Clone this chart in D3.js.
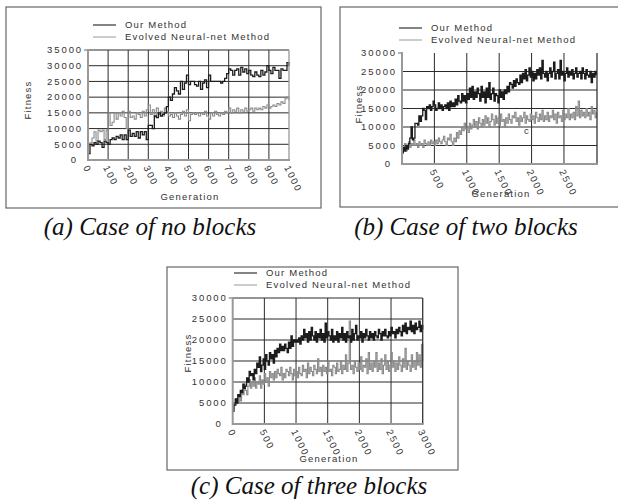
<!DOCTYPE html>
<html>
<head>
<meta charset="utf-8">
<script src="https://cdn.jsdelivr.net/npm/d3@7"></script>
<style>
  body { margin: 0; background: #fff; }
  svg { display: block; }
  .tick-label, .legend-label, .axis-title { font-family: "Liberation Sans", Arial, sans-serif; font-size: 9.5px; letter-spacing: 1.2px; fill: #333; }
  .tick-label { letter-spacing: 1.9px; }
  .caption { font-family: "Liberation Serif", "Times New Roman", serif; font-style: italic; font-size: 25px; fill: #111; }
</style>
</head>
<body>
<svg id="chart" width="618" height="500"></svg>
<script>
// series names
const seriesNames = ["Our Method", "Evolved Neural-net Method"];

// (a) no blocks, one value every 10 generations
const stepA = 10;
const ourA = [2000, 5000, 4500, 5500, 5000, 6000, 5500, 4000, 6000, 5500,
  5000, 6500, 7000, 6500, 7500, 7000, 8000, 6500, 8000, 6500,
  9500, 7500, 8500, 7500, 9000, 7000, 9000, 8000, 9000, 6500,
  11000, 11000, 10000, 14000, 13500, 15000, 14000, 14500, 15000, 17000,
  20000, 19000, 21000, 23000, 22000, 21000, 25000, 22500, 24500, 27000,
  24000, 25000, 25000, 24000, 23500, 25000, 22500, 24500, 25500, 23000,
  27000, 25000, 25000, 25000, 25000, 25000, 24500, 25000, 26000, 27500,
  29000, 28500, 27000, 28500, 29000, 27000, 29500, 28000, 29000, 27500,
  28500, 27000, 26500, 28000, 27000, 26500, 28500, 27000, 28000, 30000,
  28500, 27500, 29500, 28500, 28500, 26000, 29000, 28500, 28500, 31000,
  30000];
const nnA = [5000, 5500, 7000, 9000, 6000, 9500, 9000, 9500, 6500, 9500,
  15000, 11000, 12000, 15000, 13000, 15000, 14000, 15500, 13500, 10000,
  15500, 13500, 14000, 13000, 15000, 14500, 13500, 15500, 14000, 16000,
  17500, 14500, 16000, 14000, 16500, 14500, 15500, 14000, 16500, 15500,
  14000, 14500, 13500, 15000, 14000, 13000, 14500, 15500, 14000, 16000,
  12500, 14500, 15000, 14500, 15000, 14000, 15000, 14500, 15500, 14000,
  13000, 15000, 14000, 15500, 14500, 14000, 15000, 14500, 15500, 15000,
  16500, 15000, 16000, 15500, 16500, 15000, 16000, 15500, 16500, 15500,
  16000, 16500, 15500, 16500, 16000, 16500, 16000, 17000, 16500, 17500,
  16500, 17000, 17500, 17000, 18000, 17500, 18500, 18000, 19500, 20000,
  19000];
const xTicksA = [0, 100, 200, 300, 400, 500, 600, 700, 800, 900, 1000];
const yTicksA = [0, 5000, 10000, 15000, 20000, 25000, 30000, 35000];

// (b) two blocks, one value every 20 generations
const stepB = 20;
const ourB = [3000, 4500, 3500, 5000, 4000, 5500, 7000, 10000, 6500, 7000,
  11000, 11000, 10500, 13000, 11500, 13000, 15000, 14500, 12000, 15500,
  15000, 16000, 14500, 15500, 17000, 16000, 14500, 15000, 16500, 15000,
  16000, 14500, 15500, 16000, 15000, 16500, 14500, 17000, 15500, 16500,
  15500, 17500, 16000, 18500, 17000, 16500, 19000, 17000, 18500, 16500,
  19000, 17500, 20500, 18000, 21000, 17500, 19500, 18000, 20500, 19000,
  17000, 21000, 18000, 19500, 16500, 20500, 18000, 22000, 17500, 19000,
  20500, 17000, 19000, 18500, 16500, 20000, 18000, 19500, 17500, 20000,
  19000, 21000, 19500, 22000, 21500, 20500, 22500, 21000, 23000, 22000,
  21500, 24000, 22000, 24500, 23000, 25500, 22500, 24000, 26000, 23500,
  25000, 22500, 24500, 23000, 25500, 24000, 26000, 23000, 28000, 24500,
  23500, 25000, 22500, 24500, 26000, 23500, 25000, 27500, 23000, 24500,
  25500, 23000, 28000, 24000, 25000, 22500, 24500, 26000, 23500, 25000,
  24000, 25500, 23000, 24500, 26000, 23500, 24500, 25000, 23000, 26000,
  24500, 23000, 25500, 24000, 23500, 25000, 22000, 24500, 23500, 25000,
  24000];
const nnB = [3000, 4500, 5500, 3500, 5000, 6000, 4500, 5500, 5000, 6500,
  5000, 5500, 4500, 6000, 5000, 5500, 4500, 6500, 5500, 5000,
  6000, 5000, 6500, 5500, 6000, 5000, 6500, 5500, 7000, 6000,
  5500, 6500, 7500, 6000, 5000, 7000, 6500, 8000, 6000, 5000,
  7000, 6000, 8500, 7000, 9000, 8000, 10000, 9000, 11000, 9500,
  10000, 8500, 11000, 9500, 10500, 12000, 10000, 11500, 9500, 12500,
  11000, 10000, 12000, 10500, 13000, 11000, 12500, 10000, 11500, 13500,
  12000, 10500, 13000, 11000, 12500, 10500, 13500, 11500, 12000, 10000,
  12500, 11000, 13500, 12000, 11000, 13000, 12500, 14000, 11500, 12500,
  10500, 13000, 11500, 12500, 14000, 11000, 13000, 12000, 11500, 13500,
  12000, 13000, 11000, 14000, 12500, 11500, 13500, 12000, 14500, 11500,
  13000, 12000, 14000, 11500, 13000, 12500, 14500, 12000, 13500, 11000,
  14000, 12500, 13000, 11500, 14500, 12000, 13500, 12500, 15000, 12000,
  13500, 12500, 14000, 12000, 15500, 13000, 17000, 12500, 14500, 13000,
  14000, 12500, 15000, 13000, 14000, 12000, 15500, 13500, 14500, 12500,
  14000];
const xTicksB = [500, 1000, 1500, 2000, 2500];
const yTicksB = [0, 5000, 10000, 15000, 20000, 25000, 30000];

// (c) three blocks, one value every 20 generations
const stepC = 20;
const ourC = [3000, 4500, 6000, 5000, 7000, 6500, 8000, 7500, 9500, 8500,
  9000, 11000, 10000, 12500, 11500, 12000, 10500, 13000, 12000, 14500,
  13500, 16000, 12500, 14000, 15500, 13000, 16500, 15000, 14000, 17000,
  15500, 16500, 14500, 17500, 16000, 18000, 17000, 19000, 17500, 18500,
  17500, 19000, 18000, 17000, 19500, 18000, 21000, 18500, 20000, 19500,
  20000, 19500, 20500, 19000, 21000, 20000, 22500, 20500, 21500, 19500,
  22000, 20000, 23000, 21000, 20000, 22000, 19500, 21500, 20500, 22500,
  20000, 21500, 19500, 24000, 20500, 22000, 21000, 20000, 22500, 19500,
  21000, 20000, 22000, 19500, 21500, 20500, 23000, 20000, 21500, 19500,
  22000, 20500, 21000, 19500, 22500, 20000, 21500, 23500, 20000, 21000,
  20500, 22000, 19500, 21500, 20500, 22500, 21000, 20000, 22000, 20500,
  21500, 20000, 22000, 21000, 20500, 22500, 21500, 20000, 22000, 21000,
  22500, 21000, 20500, 22000, 21000, 23000, 21500, 22000, 20500, 22500,
  21500, 23000, 22000, 21000, 23500, 22000, 24000, 21500, 23000, 22500,
  24500, 22000, 23500, 21500, 24000, 22500, 23000, 24500, 22000, 23500,
  22500];
const nnC = [3500, 5000, 4500, 6000, 5000, 7000, 5500, 8000, 7000, 9500,
  8000, 7000, 9000, 10500, 8500, 10000, 9000, 11000, 8500, 10000,
  9500, 11500, 8500, 10500, 9500, 12000, 10000, 11000, 9000, 12500,
  11000, 12000, 10500, 12500, 11000, 13000, 12000, 11500, 13500, 10500,
  12000, 11000, 13000, 12500, 11500, 13500, 12000, 10500, 13000, 11500,
  12500, 11000, 13500, 12000, 11500, 14000, 12500, 13000, 11000, 14500,
  12000, 13500, 12500, 11500, 14000, 13000, 12000, 15500, 12500, 13500,
  11500, 14000, 12500, 13500, 12000, 15000, 12500, 13000, 11500, 14000,
  13500, 12000, 14500, 12500, 13000, 15000, 12000, 14000, 13000, 16500,
  12500, 14500, 24500, 13000, 14000, 12000, 15000, 13500, 12500, 14500,
  13000, 16000, 12500, 14000, 13500, 15500, 12000, 17000, 13000, 14500,
  12500, 15000, 13500, 17000, 12500, 14500, 13000, 15500, 12000, 14000,
  16500, 13000, 15000, 12500, 14000, 17000, 13500, 15000, 12500, 14500,
  13000, 16000, 14000, 12500, 15500, 13500, 18000, 13000, 15000, 14000,
  12500, 16500, 13500, 15000, 13000, 17000, 14000, 16500, 13500, 19000,
  15000];
const xTicksC = [0, 500, 1000, 1500, 2000, 2500, 3000];
const yTicksC = [0, 5000, 10000, 15000, 20000, 25000, 30000];

const captions = ["(a) Case of no blocks", "(b) Case of two blocks", "(c) Case of three blocks"];

const svg = d3.select("#chart");

// layout of each panel (frame box, plot box, label spots)
const panels = [
  { frame: [6, 7, 321, 208], plot: [88, 50, 289, 160], xMax: 1000, yMax: 35000,
    xTicks: xTicksA, yTicks: yTicksA, step: stepA, ours: ourA, nn: nnA,
    legend: [93, 25], fitness: [28, 100], gen: [190, 200], caption: [captions[0], 150, 235],
    topLine: true, rightColor: "#999" },
  { frame: [340, 7, 622, 207], plot: [402, 53, 597, 164], xMax: 3010, yMax: 30000,
    xTicks: xTicksB, yTicks: yTicksB, step: stepB, ours: ourB, nn: nnB,
    legend: [399, 28], fitness: [359, 104], gen: [501, 197], caption: [captions[1], 466, 235],
    topLine: false, rightColor: "#333" },
  { frame: [167, 267, 458, 470], plot: [232.7, 298, 422.7, 424], xMax: 3000, yMax: 30000,
    xTicks: xTicksC, yTicks: yTicksC, step: stepC, ours: ourC, nn: nnC,
    legend: [234, 273], fitness: [188, 353], gen: [329, 462], caption: [captions[2], 309, 494],
    topLine: true, rightColor: "#333" }
];

panels.forEach(p => drawPanel(p));

function drawPanel(p) {
  const [l, t, r, b] = p.plot;
  const g = svg.append("g");

  // outer frame
  g.append("rect")
    .attr("x", p.frame[0]).attr("y", p.frame[1])
    .attr("width", p.frame[2] - p.frame[0]).attr("height", p.frame[3] - p.frame[1])
    .attr("fill", "none").attr("stroke", "#666").attr("stroke-width", 1.2);

  const x = d3.scaleLinear().domain([0, p.xMax]).range([l, r]);
  const y = d3.scaleLinear().domain([0, p.yMax]).range([b, t]);

  // grid
  g.selectAll(".hgrid")
    .data(p.yTicks.filter(v => v > 0 && (v < p.yMax || p.topLine)))
    .enter().append("line")
    .attr("x1", l).attr("x2", r)
    .attr("y1", d => y(d)).attr("y2", d => y(d))
    .attr("stroke", "#2b2b2b").attr("stroke-width", 1);
  g.selectAll(".vgrid")
    .data(p.xTicks.filter(v => v > 0 && v < p.xMax))
    .enter().append("line")
    .attr("x1", d => x(d)).attr("x2", d => x(d))
    .attr("y1", t).attr("y2", b)
    .attr("stroke", "#2b2b2b").attr("stroke-width", 1);

  // series (gray under black)
  const line = d3.line()
    .x((d, i) => x(i * p.step))
    .y(d => y(d))
    .curve(d3.curveStepAfter);
  g.append("path").attr("d", line(p.nn))
    .attr("fill", "none").attr("stroke", "#8a8a8a").attr("stroke-width", 1.1);
  g.append("path").attr("d", line(p.ours))
    .attr("fill", "none").attr("stroke", "#1c1c1c").attr("stroke-width", 1.3);

  // plot box edges
  g.append("line").attr("x1", r).attr("x2", r).attr("y1", t).attr("y2", b)
    .attr("stroke", p.rightColor).attr("stroke-width", 1.3);
  g.append("line").attr("x1", l).attr("x2", l).attr("y1", t - 1).attr("y2", b + 1)
    .attr("stroke", "#999").attr("stroke-width", 2);
  g.append("line").attr("x1", l).attr("x2", r + 1).attr("y1", b).attr("y2", b)
    .attr("stroke", "#999").attr("stroke-width", 2);
  g.append("line").attr("x1", l - 4).attr("x2", l).attr("y1", t).attr("y2", t)
    .attr("stroke", "#999").attr("stroke-width", 1.5);

  // y tick labels
  g.selectAll(".ylab").data(p.yTicks).enter().append("text")
    .attr("class", "tick-label")
    .attr("x", d => d === 0 ? l - 10 : l - 5)
    .attr("y", d => y(d))
    .attr("dy", "0.35em")
    .attr("text-anchor", "end")
    .text(d => d);

  // x tick labels, slanted
  g.selectAll(".xlab").data(p.xTicks).enter().append("text")
    .attr("class", "tick-label")
    .attr("transform", d => `translate(${x(d) - 2},${b + 6}) rotate(64)`)
    .attr("dy", "0.35em")
    .attr("text-anchor", "start")
    .text(d => d);

  // axis titles
  g.append("text").attr("class", "axis-title")
    .attr("transform", `translate(${p.fitness[0]},${p.fitness[1]}) rotate(-90)`)
    .attr("text-anchor", "middle").attr("dy", "0.35em")
    .text("Fitness");
  g.append("text").attr("class", "axis-title")
    .attr("x", p.gen[0]).attr("y", p.gen[1])
    .attr("text-anchor", "middle")
    .text("Generation");

  // legend
  const lg = g.append("g").attr("transform", `translate(${p.legend[0]},${p.legend[1]})`);
  lg.selectAll("line").data(seriesNames).enter().append("line")
    .attr("x1", 0).attr("x2", 23)
    .attr("y1", (d, i) => i * 12).attr("y2", (d, i) => i * 12)
    .attr("stroke", (d, i) => i === 0 ? "#333" : "#aaa").attr("stroke-width", 1.2);
  lg.selectAll("text").data(seriesNames).enter().append("text")
    .attr("class", "legend-label")
    .attr("x", 32).attr("y", (d, i) => i * 12)
    .attr("dy", "0.35em")
    .text(d => d);

  // caption
  svg.append("text").attr("class", "caption")
    .attr("x", p.caption[1]).attr("y", p.caption[2])
    .attr("text-anchor", "middle")
    .text(p.caption[0]);
}

// stray mark in panel (b)
svg.append("text").attr("class", "tick-label").attr("x", 524).attr("y", 134).text("c");
</script>
</body>
</html>
